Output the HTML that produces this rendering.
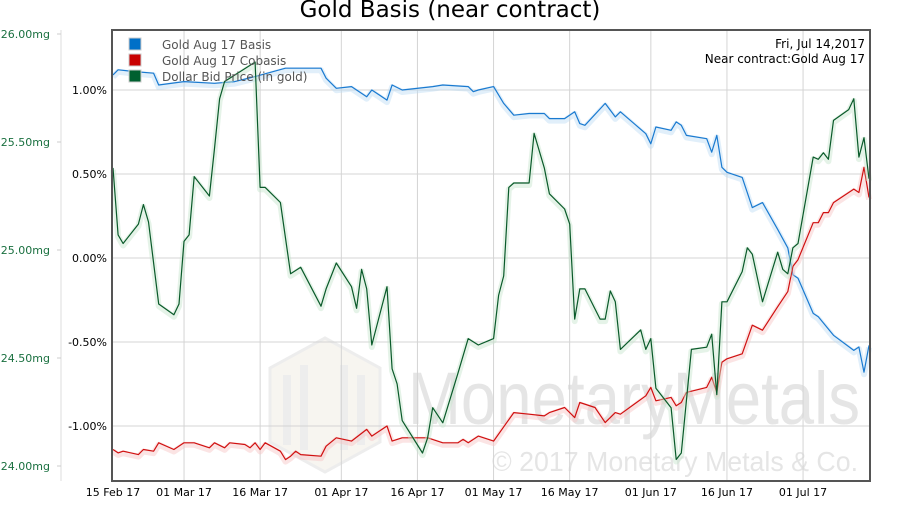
<!DOCTYPE html>
<html><head><meta charset="utf-8"><style>
body{margin:0;background:#fff;}
svg text{font-family:"DejaVu Sans","Liberation Sans",sans-serif;}
</style></head><body>
<svg id="chart" width="900" height="500" viewBox="0 0 900 500" xmlns="http://www.w3.org/2000/svg">
<rect x="0" y="0" width="900" height="500" fill="#fff"/>
<text x="450" y="17" text-anchor="middle" font-size="23" fill="#000">Gold Basis (near contract)</text>
<g opacity="0.5">
  <polygon points="325,338 380,368 380,442 325,472 270,442 270,368" fill="#f1ede2" stroke="#ddd" stroke-width="3"/>
  <rect x="283" y="375" width="8" height="70" fill="#ddd"/><rect x="300" y="365" width="8" height="85" fill="#ddd"/><rect x="340" y="365" width="8" height="85" fill="#ddd"/><rect x="357" y="375" width="8" height="70" fill="#ddd"/>
  <text x="408" y="424" font-size="74" fill="#ccc" style="font-family:'Liberation Sans',sans-serif" textLength="452" lengthAdjust="spacingAndGlyphs">MonetaryMetals</text>
  <text x="492" y="471" font-size="28" fill="#ccc" style="font-family:'Liberation Sans',sans-serif" textLength="366" lengthAdjust="spacingAndGlyphs">© 2017 Monetary Metals &amp; Co.</text>
</g>
<g id="grid"></g>
<g id="axes"></g>
<g id="series"></g>
<rect x="112" y="30" width="758" height="451" fill="none" stroke="#555" stroke-width="2"/>
<g font-size="12" fill="#555">
  <g><rect x="129" y="38" width="12" height="12" fill="#0070c8" stroke="#ccc"/><text x="162" y="49" fill="#555">Gold Aug 17 Basis</text></g>
  <g><rect x="129" y="54" width="12" height="12" fill="#c80000" stroke="#ccc"/><text x="162" y="65" fill="#555">Gold Aug 17 Cobasis</text></g>
  <g><rect x="129" y="70" width="12" height="12" fill="#006030" stroke="#ccc"/><text x="162" y="81" fill="#555">Dollar Bid Price (in gold)</text></g>
</g>
<text x="865" y="48" text-anchor="end" font-size="12" fill="#000">Fri, Jul 14,2017</text>
<text x="865" y="63" text-anchor="end" font-size="12" fill="#000">Near contract:Gold Aug 17</text>
</svg>
<script>
const xTickDays=[0,14,29,45,60,75,90,106,121,136];
const xTickLabels=["15 Feb 17","01 Mar 17","16 Mar 17","01 Apr 17","16 Apr 17","01 May 17","16 May 17","01 Jun 17","16 Jun 17","01 Jul 17"];
const pctTicks=[1.0,0.5,0.0,-0.5,-1.0];
const pctLabels=["1.00%","0.50%","0.00%","-0.50%","-1.00%"];
const mgTicks=[26.0,25.5,25.0,24.5,24.0];
const mgLabels=["26.00mg","25.50mg","25.00mg","24.50mg","24.00mg"];
const basisDays=[0,1,4,8,9,14,20,24,28,34,37,41,42,44,47,50,51,54,55,57,63,65,70,71,72,75,77,79,82,85,86,89,91,92,93,97,99,100,105,106,107,110,111,112,113,117,118,119,120,121,124,126,128,131,133,134,135,138,139,142,146,147,148,149];
const basisVals=[1.09,1.12,1.11,1.10,1.03,1.05,1.04,1.05,1.08,1.13,1.13,1.13,1.07,1.01,1.02,0.96,1.00,0.94,1.03,1.00,1.02,1.03,1.02,0.99,1.00,1.02,0.92,0.85,0.86,0.86,0.83,0.83,0.87,0.80,0.79,0.92,0.84,0.87,0.74,0.68,0.78,0.76,0.81,0.79,0.73,0.71,0.63,0.73,0.54,0.51,0.48,0.30,0.33,0.17,0.06,-0.10,-0.12,-0.33,-0.35,-0.46,-0.55,-0.53,-0.68,-0.52];
const cobasisDays=[0,1,2,5,6,8,9,12,14,16,19,20,22,23,26,27,28,29,30,33,34,35,36,37,41,42,44,47,50,51,54,55,57,62,65,68,69,70,72,75,79,82,85,86,89,91,92,95,97,99,100,105,106,107,110,111,112,113,117,118,119,120,121,124,126,128,131,133,134,135,138,139,140,141,142,146,147,148,149];
const cobasisVals=[-1.14,-1.16,-1.15,-1.17,-1.14,-1.15,-1.10,-1.14,-1.10,-1.10,-1.13,-1.10,-1.13,-1.10,-1.11,-1.13,-1.10,-1.14,-1.10,-1.15,-1.20,-1.18,-1.15,-1.17,-1.18,-1.12,-1.07,-1.09,-1.02,-1.06,-1.00,-1.09,-1.07,-1.07,-1.10,-1.10,-1.08,-1.10,-1.06,-1.09,-0.92,-0.93,-0.94,-0.92,-0.89,-0.95,-0.86,-0.89,-0.98,-0.92,-0.93,-0.82,-0.77,-0.85,-0.83,-0.88,-0.86,-0.80,-0.77,-0.71,-0.80,-0.62,-0.60,-0.57,-0.40,-0.43,-0.29,-0.20,-0.05,-0.01,0.21,0.21,0.27,0.27,0.33,0.41,0.39,0.54,0.36];
const dollarDays=[0,1,2,5,6,7,9,12,13,14,15,16,19,20,21,22,28,29,30,33,35,37,41,42,44,47,48,49,50,51,54,55,56,57,61,62,63,65,68,70,72,75,76,77,78,79,82,83,85,86,89,90,91,92,93,96,97,98,99,100,104,105,106,107,110,111,112,114,117,118,119,120,121,124,125,126,128,131,132,133,134,135,138,139,140,141,142,145,146,147,148,149];
const dollarVals=[25.38,25.07,25.03,25.12,25.21,25.13,24.75,24.70,24.75,25.04,25.07,25.34,25.25,25.47,25.70,25.78,25.87,25.29,25.29,25.22,24.89,24.92,24.74,24.82,24.94,24.83,24.73,24.91,24.82,24.56,24.83,24.45,24.38,24.21,24.06,24.13,24.27,24.20,24.43,24.59,24.56,24.59,24.79,24.88,25.29,25.31,25.31,25.54,25.38,25.26,25.19,25.12,24.68,24.82,24.82,24.68,24.68,24.81,24.76,24.54,24.63,24.54,24.59,24.36,24.27,24.03,24.06,24.54,24.55,24.61,24.33,24.76,24.76,24.90,25.01,24.98,24.76,24.99,24.91,24.89,25.01,25.03,25.43,25.42,25.45,25.42,25.60,25.65,25.70,25.43,25.52,25.33];

const NS="http://www.w3.org/2000/svg";
const X0=113, PX_PER_DAY=5.074, PLOT_L=112, PLOT_R=870, PLOT_T=30, PLOT_B=481;
function xDay(d){return X0+d*PX_PER_DAY;}
function yPct(v){return 258-v*168;}
function yMg(v){return 466-(v-24)*216;}
function mk(tag,attrs,parent){const e=document.createElementNS(NS,tag);for(const k in attrs)e.setAttribute(k,attrs[k]);parent.appendChild(e);return e;}
const grid=document.getElementById('grid'), axes=document.getElementById('axes'), series=document.getElementById('series');

xTickDays.forEach((d,i)=>{
  const x=xDay(d);
  if(i>0){const l=mk('line',{x1:x,x2:x,y1:PLOT_T,y2:PLOT_B,stroke:'#d4d4d4','stroke-width':1},grid);
  
  }
  const t=mk('text',{x:x,y:496,'text-anchor':'middle','font-size':11,fill:'#000'},axes);
  
  
  t.textContent=xTickLabels[i];
});
pctTicks.forEach((v,i)=>{
  const y=yPct(v);
  const l=mk('line',{x1:PLOT_L,x2:PLOT_R,y1:y,y2:y,stroke:'#d4d4d4','stroke-width':1},grid);
  
  
  const t=mk('text',{x:107,y:y+4,'text-anchor':'end','font-size':11,fill:'#000'},axes);
  
  
  t.textContent=pctLabels[i];
});
const la=mk('line',{x1:61,x2:61,y1:30,y2:481,stroke:'#ddd','stroke-width':1},axes);


mgTicks.forEach((v,i)=>{
  const y=yMg(v);
  const tk=mk('line',{x1:57,x2:61,y1:y,y2:y,stroke:'#ccc'},axes);
  
  
  const t=mk('text',{x:50,y:y+4,'text-anchor':'end','font-size':11,fill:'#1a7040'},axes);
  
  
  t.textContent=mgLabels[i];
});
function drawLine(days,vals,yf,color,glow,name){
  const pts=days.map((d,i)=>xDay(d).toFixed(1)+','+yf(vals[i]).toFixed(1)).join(' ');
  const g=mk('polyline',{points:pts,fill:'none',stroke:glow,'stroke-width':6,'stroke-opacity':0.45,'stroke-linejoin':'round',transform:'translate(0,2)'},series);
  
  
  const l=mk('polyline',{points:pts,fill:'none',stroke:color,'stroke-width':1.2,'stroke-linejoin':'round'},series);
  
  
}
drawLine(basisDays,basisVals,yPct,'#1a7ad0','#bcdcf4','basis');
drawLine(cobasisDays,cobasisVals,yPct,'#d01010','#f6c4c4','cobasis');
drawLine(dollarDays,dollarVals,yMg,'#0a5a2a','#c6e4cc','dollar-bid-price');
</script>
</body></html>
